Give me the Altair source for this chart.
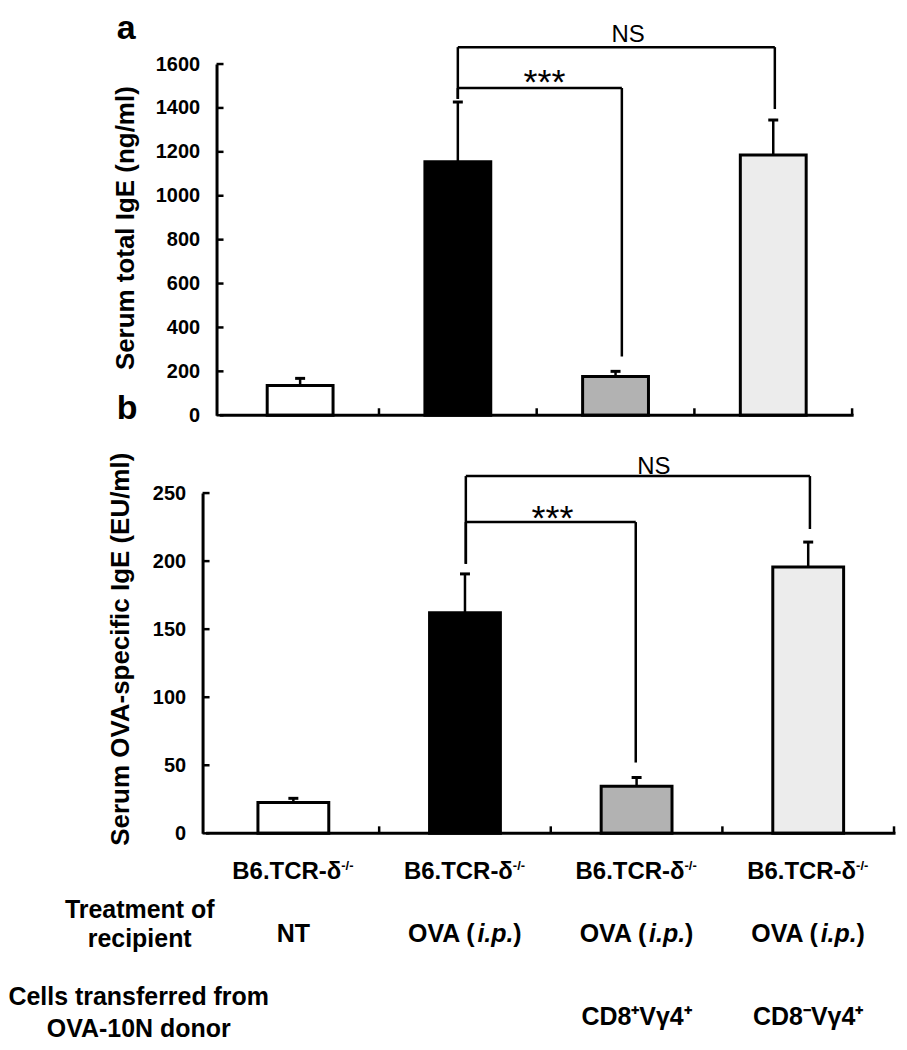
import altair as alt
import pandas as pd

FONT = "Liberation Sans"

# ---------------- data ----------------
groups = ["NT", "OVA", "OVA + CD8+Vγ4+", "OVA + CD8-Vγ4+"]
centers = [0.5, 1.5, 2.5, 3.5]
boundaries = [1, 2, 3, 4]

a_mean = [136, 1155, 177, 1186]
a_err = [32, 272, 23, 159]
b_mean = [22.7, 162, 34.5, 195.7]
b_err = [3.0, 28.6, 6.5, 18.3]

a_ticks = [0, 200, 400, 600, 800, 1000, 1200, 1400, 1600]
b_ticks = [0, 50, 100, 150, 200, 250]

# significance brackets (data units)
a_sig_label = ["***", "NS"]
a_sig_x1 = [1.5, 1.5]
a_sig_x2 = [2.54, 3.51]
a_sig_level = [1491, 1677]
a_sig_left_bottom = [1441, 1441]
a_sig_right_bottom = [268, 1395]
a_sig_text_x = [2.05, 2.58]

b_sig_label = ["***", "NS"]
b_sig_x1 = [1.505, 1.505]
b_sig_x2 = [2.495, 3.51]
b_sig_level = [228.7, 262.5]
b_sig_left_bottom = [198, 198]
b_sig_right_bottom = [52, 223.6]
b_sig_text_x = [2.01, 2.6]

recipient = ["B6.TCR-δ", "B6.TCR-δ", "B6.TCR-δ", "B6.TCR-δ"]
recipient_sup = "-/-"
treatment = ["NT", "OVA", "OVA", "OVA"]
transferred = ["", "", "CD8⁺Vγ4⁺", "CD8⁻Vγ4⁺"]

# ---------------- styles ----------------
fills = ["#ffffff", "#000000", "#b2b2b2", "#ececec"]


def panel(mean, err, ticks, ymax, sig_label, sig_x1, sig_x2, sig_level, sig_lb, sig_rb,
          sig_tx, xmin, W, H, axis_off, title, title_x, title_y, bar_size,
          ns_dy, star_dy, extra=None):
    xs = alt.Scale(domain=[xmin, 4], nice=False, zero=False)
    ys = alt.Scale(domain=[0, ymax], nice=False, zero=True)
    yaxis = alt.Axis(values=ticks, ticks=False, domain=True, domainWidth=3,
                     domainColor="black", grid=False, labelFontSize=20,
                     labelFontWeight="bold", labelColor="black", labelFont=FONT,
                     labelPadding=17, format="d", offset=axis_off, title=title,
                     titleFontSize=26, titleFontWeight="bold", titleColor="black",
                     titleFont=FONT, titleX=title_x, titleY=title_y,
                     titleAlign="center", titleBaseline="middle", titleAngle=270)
    axis_px = -axis_off

    bars_df = pd.DataFrame({"group": groups, "pos": centers, "mean": mean,
                            "upper": [m + e for m, e in zip(mean, err)]})
    bars = alt.Chart(bars_df).mark_bar(size=bar_size, stroke="black", strokeWidth=3).encode(
        x=alt.X("pos:Q", scale=xs, axis=None),
        y=alt.Y("mean:Q", scale=ys, axis=yaxis),
        color=alt.Color("group:N", scale=alt.Scale(domain=groups, range=fills), legend=None),
    )
    err_line = alt.Chart(bars_df).mark_rule(strokeWidth=2.5, color="black").encode(
        x=alt.X("pos:Q", scale=xs, axis=None),
        y=alt.Y("mean:Q", scale=ys, axis=yaxis),
        y2="upper:Q",
    )
    err_cap = alt.Chart(bars_df).mark_tick(orient="horizontal", size=10, thickness=3,
                                           color="black", opacity=1).encode(
        x=alt.X("pos:Q", scale=xs, axis=None),
        y=alt.Y("upper:Q", scale=ys, axis=yaxis),
    )

    # brackets built from the bracket arrays
    segs = []
    for i in range(len(sig_label)):
        segs.append((sig_x1[i], sig_x2[i], sig_level[i], sig_level[i]))
        segs.append((sig_x1[i], sig_x1[i], sig_lb[i], sig_level[i]))
        segs.append((sig_x2[i], sig_x2[i], sig_rb[i], sig_level[i]))
    seg_df = pd.DataFrame(segs, columns=["x", "x2", "y", "y2"])
    brackets = alt.Chart(seg_df).mark_rule(strokeWidth=2.5, color="black").encode(
        x=alt.X("x:Q", scale=xs, axis=None), x2="x2:Q",
        y=alt.Y("y:Q", scale=ys, axis=yaxis), y2="y2:Q",
    )
    sig_df = pd.DataFrame({"label": sig_label, "x": sig_tx, "y": sig_level})
    ns_text = alt.Chart(sig_df).transform_filter(alt.datum.label == "NS").mark_text(
        font=FONT, fontSize=24, color="black", align="center", baseline="alphabetic", dy=ns_dy
    ).encode(x=alt.X("x:Q", scale=xs, axis=None), y=alt.Y("y:Q", scale=ys, axis=yaxis), text="label:N")
    star_text = alt.Chart(sig_df).transform_filter(alt.datum.label == "***").mark_text(
        font=FONT, fontSize=36, color="black", align="center", baseline="alphabetic", dy=star_dy
    ).encode(x=alt.X("x:Q", scale=xs, axis=None), y=alt.Y("y:Q", scale=ys, axis=yaxis), text="label:N")

    # inward axis ticks
    yt_df = pd.DataFrame({"v": ticks})
    yticks = alt.Chart(yt_df).mark_rule(strokeWidth=2.5, color="black").encode(
        y=alt.Y("v:Q", scale=ys, axis=yaxis), x=alt.value(axis_px), x2=alt.value(axis_px + 7)
    )
    xt_df = pd.DataFrame({"b": boundaries})
    xticks = alt.Chart(xt_df).mark_rule(strokeWidth=2.5, color="black").encode(
        x=alt.X("b:Q", scale=xs, axis=None), y=alt.value(H), y2=alt.value(H - 7)
    )
    xd_df = pd.DataFrame({"x0": [0], "x1": [4], "y0": [0]})
    xdomain = alt.Chart(xd_df).mark_rule(strokeWidth=3, color="black", strokeCap="square").encode(
        x=alt.X("x0:Q", scale=xs, axis=None), x2="x1:Q", y=alt.Y("y0:Q", scale=ys, axis=yaxis)
    )
    layers = [bars, err_line, err_cap, brackets, ns_text, star_text, yticks, xticks, xdomain]
    if extra:
        layers += [e(xs) for e in extra]
    return alt.layer(*layers).properties(width=W, height=H)


# ---------------- panel letters (panel a) ----------------
def letter(txt, y):
    def make(xs):
        return alt.Chart(pd.DataFrame({"t": [txt]})).mark_text(
            font=FONT, fontSize=34, fontWeight="bold", color="black", align="left",
            baseline="alphabetic").encode(x=alt.value(-86), y=alt.value(y), text="t:N")
    return make


# ---------------- table under panel b ----------------
lab_df = pd.DataFrame({"pos": centers, "recipient": recipient, "treatment": treatment,
                       "transferred": transferred})


def txt_layer(field, y, dx=0, dy=0, size=25, align="center", style="normal", flt=None, value=None):
    def make(xs):
        c = alt.Chart(lab_df)
        if flt is not None:
            c = c.transform_filter(flt)
        enc = dict(x=alt.X("pos:Q", scale=xs, axis=None), y=alt.value(y))
        enc["text"] = alt.value(value) if value is not None else alt.Text(field + ":N")
        return c.mark_text(font=FONT, fontSize=size, fontWeight="bold", fontStyle=style,
                           color="black", align=align, baseline="alphabetic", dx=dx, dy=dy
                           ).encode(**enc)
    return make


def side_label(text, x, y, lh):
    def make(xs):
        return alt.Chart(pd.DataFrame({"t": [text]})).mark_text(
            font=FONT, fontSize=25, fontWeight="bold", color="black", align="center",
            baseline="alphabetic", lineBreak="\n", lineHeight=lh
        ).encode(x=alt.value(x), y=alt.value(y), text="t:N")
    return make


table = [
    txt_layer("recipient", 387, dx=48, size=24, align="right"),
    txt_layer("recipient", 387, dx=48, dy=-9, size=13, align="left", value=recipient_sup),
    txt_layer("treatment", 450, flt=alt.datum.treatment == "NT"),
    txt_layer("treatment", 450, dx=-57, align="left", flt=alt.datum.treatment == "OVA", value="OVA ("),
    txt_layer("treatment", 450, dx=12.5, align="left", style="italic",
              flt=alt.datum.treatment == "OVA", value="i.p."),
    txt_layer("treatment", 450, dx=48.5, align="left", flt=alt.datum.treatment == "OVA", value=")"),
    txt_layer("transferred", 533, flt=alt.datum.transferred != ""),
    side_label("Treatment of\nrecipient", -63, 426, 29),
    side_label("Cells transferred from\nOVA-10N donor", -64, 513, 32),
]

pa = panel(a_mean, a_err, a_ticks, 1600, a_sig_label, a_sig_x1, a_sig_x2, a_sig_level,
           a_sig_left_bottom, a_sig_right_bottom, a_sig_text_x,
           xmin=-0.087, W=656, H=352, axis_off=-14, title="Serum total IgE (ng/ml)",
           title_x=-91, title_y=164, bar_size=66, ns_dy=-5, star_dy=6,
           extra=[letter("a", -25), letter("b", 356)])

pb = panel(b_mean, b_err, b_ticks, 250, b_sig_label, b_sig_x1, b_sig_x2, b_sig_level,
           b_sig_left_bottom, b_sig_right_bottom, b_sig_text_x,
           xmin=0, W=698, H=341, axis_off=0, title="Serum OVA-specific IgE (EU/ml)",
           title_x=-82, title_y=156, bar_size=71, ns_dy=-2, star_dy=8,
           extra=table)

chart = alt.vconcat(pa, pb, spacing=78, bounds="flush").properties(
    padding={"left": 0, "top": 3, "right": 0, "bottom": 0}
).configure(font=FONT).configure_view(stroke=None)

chart.save("out.html", embed_options={"renderer": "svg", "actions": False})
